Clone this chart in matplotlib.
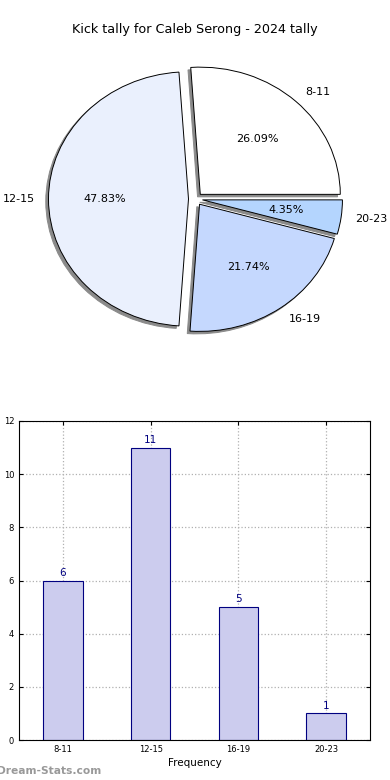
import matplotlib
matplotlib.use('Agg')
import matplotlib.pyplot as plt
import numpy as np

# data
ranges = ['8-11', '12-15', '16-19', '20-23']
counts = [6, 11, 5, 1]
pie_colors = ['#ffffff', '#eaf0fd', '#c5d8fe', '#b4d5fe']

fig = plt.figure(figsize=(3.9, 7.8), dpi=100)

fig.text(0.5, 1 - 30 / 780, 'Kick tally for Caleb Serong - 2024 tally',
         ha='center', va='center', fontsize=9.2)

# pie
ax1 = fig.add_axes([20.5 / 390, 1 - 358 / 780, 350 / 390, 318 / 780])
wedges, texts, autotexts = ax1.pie(
    counts, labels=ranges, colors=pie_colors, explode=[0.05] * 4,
    autopct='%.2f%%',
    shadow={'ox': -0.014, 'oy': -0.014, 'color': '#8a8a8a', 'alpha': 1.0},
    startangle=0, counterclock=True,
    wedgeprops={'edgecolor': 'black', 'linewidth': 0.7},
    textprops={'fontsize': 8})
ax1.set_aspect('auto')
ax1.set_xlim(-1.25, 1.25)
ax1.set_ylim(-1.25, 1.25)

# bars
ax2 = fig.add_axes([19 / 390, 1 - 740 / 780, 351 / 390, 319 / 780])
x = np.arange(len(ranges))
ax2.bar(x, counts, width=0.45, color='#ccccee', edgecolor='#000080',
        linewidth=0.8, zorder=2)
for xi, c in zip(x, counts):
    ax2.text(xi, c + 0.1, str(c), ha='center', va='bottom',
             color='#000080', fontsize=7.5)
ax2.set_xlim(-0.5, 3.5)
ax2.set_ylim(0, 12)
ax2.set_xticks(x)
ax2.set_xticklabels(ranges)
ax2.set_yticks(range(0, 13, 2))
ax2.tick_params(labelsize=6, direction='in', top=True, right=True, length=3)
ax2.grid(True, linestyle=':', color='#b0b0b0', linewidth=0.9, zorder=0)
ax2.set_axisbelow(True)
ax2.set_xlabel('Frequency', fontsize=7.5, labelpad=3)
ax2.set_ylabel('Stat Intervals', fontsize=7.5)
ax2.yaxis.set_label_coords(-0.065, 0.5)

fig.text(-3 / 390, 1 - 771 / 780, 'Dream-Stats.com', color='#999999',
         fontsize=7.7, fontweight='bold', ha='left', va='center')

fig.savefig('out.png', dpi=100)
